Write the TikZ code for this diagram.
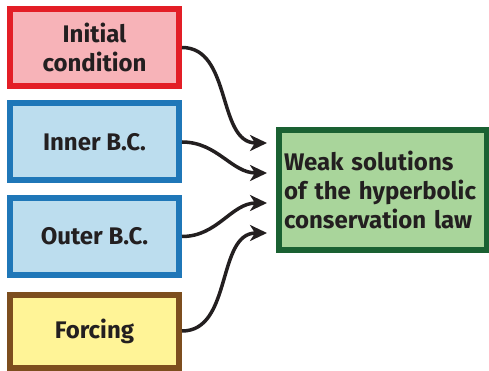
\documentclass[tikz,border=0pt]{standalone}
\usepackage{fontspec}
\setmainfont{Fira Sans}
\usetikzlibrary{arrows.meta}

\definecolor{inkgray}{HTML}{231F20}
\definecolor{initline}{HTML}{E31E26}
\definecolor{initfill}{HTML}{F7B3B8}
\definecolor{bcline}{HTML}{1F77B8}
\definecolor{bcfill}{HTML}{BCDDEE}
\definecolor{forceline}{HTML}{7D4E1E}
\definecolor{forcefill}{HTML}{FFF497}
\definecolor{weakline}{HTML}{1A6132}
\definecolor{weakfill}{HTML}{A9D59B}

\tikzstyle{box} = [rectangle, draw, line width = 6pt, minimum width = 169pt, minimum height = 77pt, align = center, text = inkgray, font = \bfseries\fontsize{24}{29}\selectfont]
\tikzstyle{arrow} = [line width = 3.5pt, draw = inkgray, -{Stealth[length=17pt, width=16pt, inset=5pt]}]

\begin{document}
\begin{tikzpicture}
    [node distance = 94.5pt, auto]
  \useasboundingbox (0,0) rectangle (489pt,-371pt);
  \node[box, draw=initline, fill=initfill] (A) at (94.5pt,-47.5pt) {Initial\\condition};
  \node[box, draw=bcline, fill=bcfill, below of=A] (B) {Inner B.C.};
  \node[box, draw=bcline, fill=bcfill, below of=B] (C) {Outer B.C.};
  \node[box, draw=forceline, fill=forcefill, below of=C, minimum height = 73pt] (D) {Forcing};
  \node[box, draw=weakline, fill=weakfill, minimum width = 208pt, minimum height = 120pt, text width = 198pt, align = left] (E) at (383pt,-190pt) {Weak solutions\\of the hyperbolic\\conservation law};
  \coordinate (P) at ([xshift=-9pt, yshift=47pt]E.west);
  \coordinate (Q) at ([xshift=-9pt, yshift=17pt]E.west);
  \coordinate (R) at ([xshift=-9pt, yshift=-13pt]E.west);
  \coordinate (S) at ([xshift=-9pt, yshift=-43pt]E.west);
  \draw [arrow] (A.east) to[out=0, in=180] (P);
  \draw [arrow] (B.east) to[out=0, in=180] (Q);
  \draw [arrow] (C.east) to[out=0, in=180] (R);
  \draw [arrow] (D.east) to[out=0, in=180] (S);
\end{tikzpicture}
\end{document}
